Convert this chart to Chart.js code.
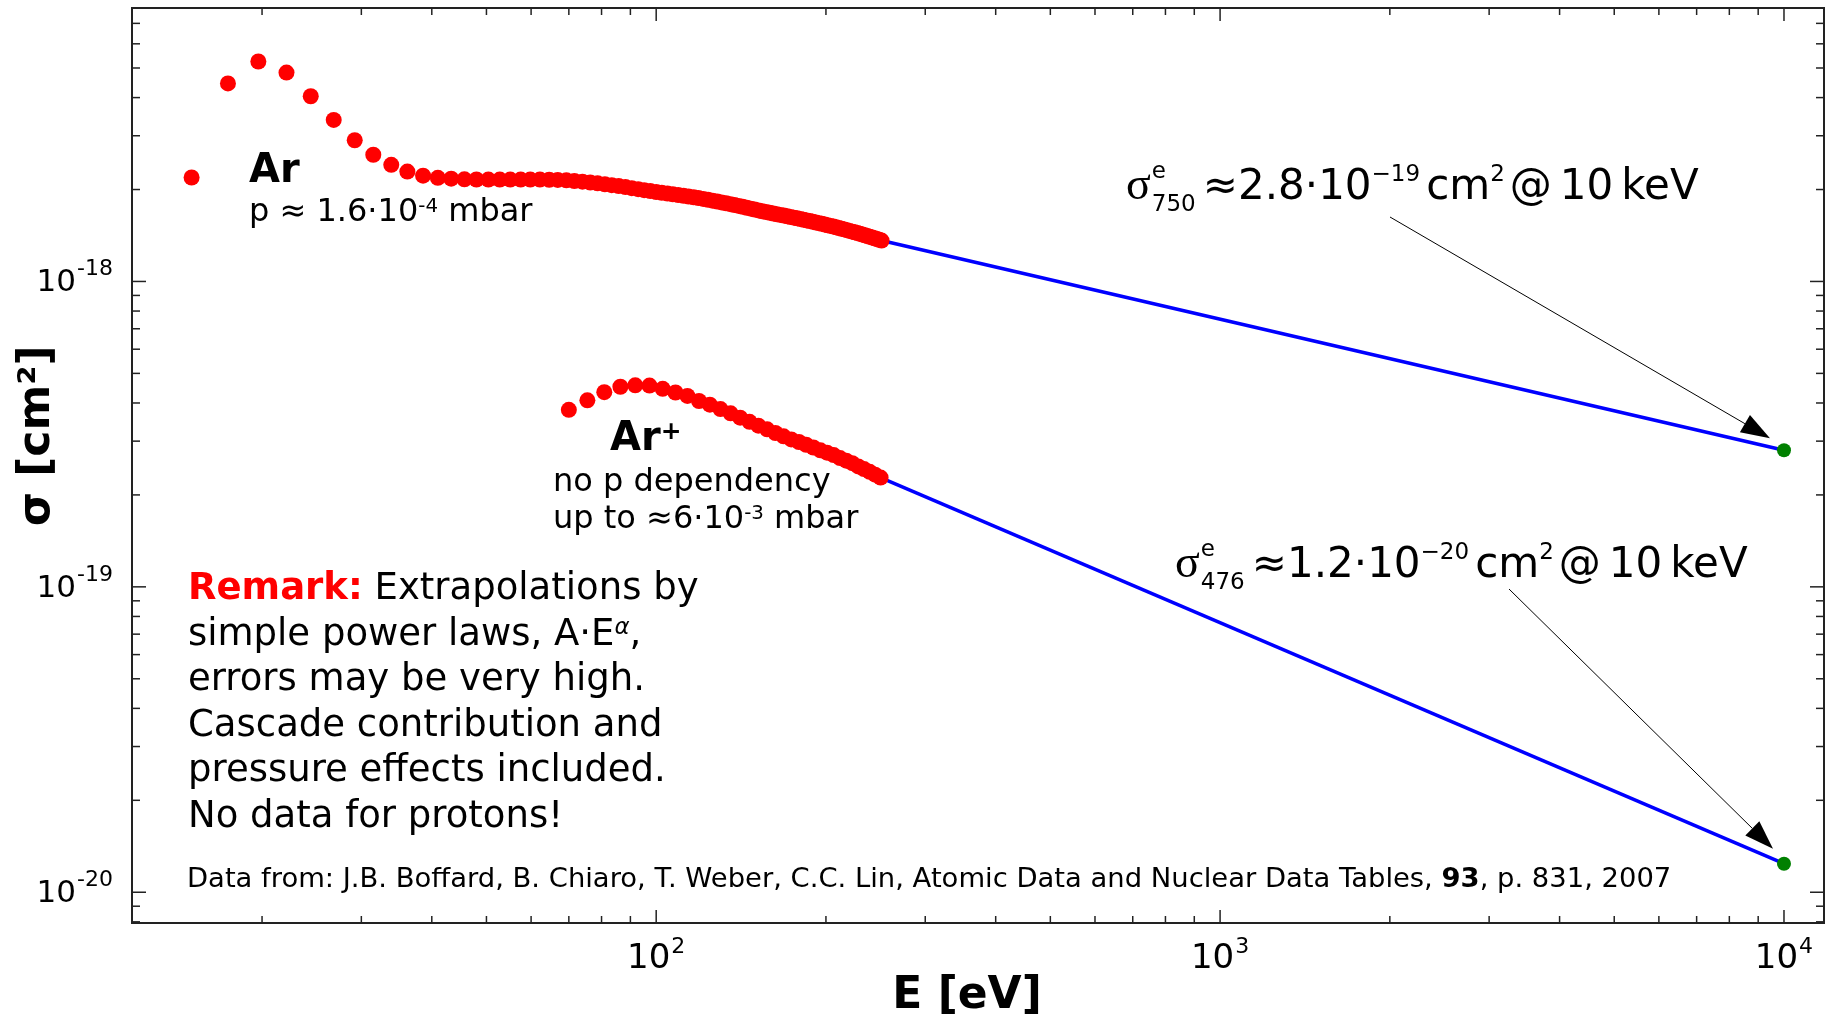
<!DOCTYPE html>
<html>
<head>
<meta charset="utf-8">
<script src="https://cdn.jsdelivr.net/npm/chart.js@4/dist/chart.umd.min.js"></script>
<style>
  body { margin: 0; background: #fff; }
  #wrap { position: relative; width: 1833px; height: 1017px; overflow: hidden; }
  #chart { position: absolute; left: 0; top: 0; }
  .ann { position: absolute; font-family: 'DejaVu Sans'; white-space: nowrap; color: #000; line-height: 1.2; }
  .sp { font-size: 0.62em; position: relative; top: -0.45em; line-height: 1; }
  .big { font-size: 42px; line-height: 50px; }
  .sig { font-family: 'Liberation Serif'; font-size: 46px; }
  .stk { display: inline-block; position: relative; width: 52px; height: 1px; }
  .stk span { position: absolute; left: 1px; font-size: 23px; line-height: 23px; }
  .sx { font-size: 23px; line-height: 23px; position: relative; top: -18px; }
</style>
</head>
<body>
<div id="wrap">
  <canvas id="chart" width="1833" height="1017"></canvas>

  <div class="ann" style="left:249px; top:144px; font-size:40px; font-weight:bold;">Ar</div>
  <div class="ann" style="left:249px; top:191px; font-size:32px;">p ≈ 1.6·10<span class="sp">-4</span> mbar</div>

  <div class="ann" style="left:610px; top:412px; font-size:40px; font-weight:bold;">Ar<span class="sp">+</span></div>
  <div class="ann" style="left:553px; top:462px; font-size:32px; line-height:36.6px;">no p dependency<br>up to ≈6·10<span class="sp">-3</span> mbar</div>

  <div class="ann" style="left:188px; top:564px; font-size:37px; line-height:45.5px;"><b style="color:#ff0000;">Remark:</b> Extrapolations by<br>simple power laws, A·E<span class="sp"><i>α</i></span>,<br>errors may be very high.<br>Cascade contribution and<br>pressure effects included.<br>No data for protons!</div>

  <div class="ann" style="left:187px; top:862px; font-size:27.4px;">Data from: J.B. Boffard, B. Chiaro, T. Weber, C.C. Lin, Atomic Data and Nuclear Data Tables, <b>93</b>, p. 831, 2007</div>

  <div class="ann big" style="left:1126px; top:159px;"><span class="sig">σ</span><span class="stk"><span style="top:-39px">e</span><span style="top:-6px">750</span></span>≈2.8·10<span class="sx">−19</span><span style="margin-left:6px">cm</span><span class="sx">2</span><span style="margin-left:5px">@</span><span style="margin-left:8px">10</span><span style="margin-left:8px">keV</span></div>

  <div class="ann big" style="left:1175px; top:537px;"><span class="sig">σ</span><span class="stk"><span style="top:-39px">e</span><span style="top:-6px">476</span></span>≈1.2·10<span class="sx">−20</span><span style="margin-left:6px">cm</span><span class="sx">2</span><span style="margin-left:5px">@</span><span style="margin-left:8px">10</span><span style="margin-left:8px">keV</span></div>
</div>

<script>
// Ar, 750 nm line: energy [eV] and cross section [cm^2]
const arE = [15.0, 17.4, 19.7, 22.1, 24.4, 26.8, 29.2, 31.5, 33.9, 36.2,
  38.6, 41.0, 43.3, 45.7, 48.0, 50.4, 52.8, 55.1, 57.5, 59.8,
  62.2, 64.6, 66.9, 69.3, 71.6, 74.0, 76.4, 78.7, 81.1, 83.4,
  85.8, 88.2, 90.5, 92.9, 95.2, 97.6, 100.0, 102.3, 104.7, 107.0,
  109.4, 111.8, 114.1, 116.5, 118.8, 121.2, 123.6, 125.9, 128.3, 130.6,
  133.0, 135.4, 137.7, 140.1, 142.4, 144.8, 147.2, 149.5, 151.9, 154.2,
  156.6, 159.0, 161.3, 163.7, 166.0, 168.4, 170.8, 173.1, 175.5, 177.8,
  180.2, 182.6, 184.9, 187.3, 189.6, 192.0, 194.4, 196.7, 199.1, 201.4,
  203.8, 206.2, 208.5, 210.9, 213.2, 215.6, 218.0, 220.3, 222.7, 225.0,
  227.4, 229.8, 232.1, 234.5, 236.8, 239.2, 241.6, 243.9, 246.3, 248.6, 251.0];
const arSigma = [2.19e-18, 4.45e-18, 5.25e-18, 4.83e-18, 4.04e-18, 3.38e-18, 2.90e-18, 2.60e-18, 2.41e-18, 2.29e-18,
  2.22e-18, 2.185e-18, 2.17e-18, 2.16e-18, 2.157e-18, 2.155e-18, 2.155e-18, 2.155e-18, 2.155e-18, 2.155e-18,
  2.155e-18, 2.153e-18, 2.15e-18, 2.143e-18, 2.133e-18, 2.122e-18, 2.108e-18, 2.095e-18, 2.08e-18, 2.066e-18,
  2.052e-18, 2.037e-18, 2.02e-18, 2.005e-18, 1.99e-18, 1.976e-18, 1.963e-18, 1.951e-18, 1.94e-18, 1.929e-18,
  1.918e-18, 1.907e-18, 1.897e-18, 1.887e-18, 1.875e-18, 1.863e-18, 1.851e-18, 1.839e-18, 1.827e-18, 1.815e-18,
  1.803e-18, 1.791e-18, 1.779e-18, 1.767e-18, 1.755e-18, 1.743e-18, 1.731e-18, 1.719e-18, 1.708e-18, 1.697e-18,
  1.687e-18, 1.678e-18, 1.669e-18, 1.66e-18, 1.651e-18, 1.643e-18, 1.634e-18, 1.626e-18, 1.617e-18, 1.609e-18,
  1.6e-18, 1.592e-18, 1.584e-18, 1.576e-18, 1.568e-18, 1.56e-18, 1.552e-18, 1.544e-18, 1.536e-18, 1.528e-18,
  1.52e-18, 1.512e-18, 1.504e-18, 1.496e-18, 1.488e-18, 1.48e-18, 1.472e-18, 1.464e-18, 1.456e-18, 1.448e-18,
  1.44e-18, 1.432e-18, 1.424e-18, 1.416e-18, 1.408e-18, 1.4e-18, 1.392e-18, 1.385e-18, 1.377e-18, 1.369e-18, 1.361e-18];

// Ar+, 476 nm line
const arPlusE = [70.0, 75.5, 80.9, 86.4, 91.8, 97.3, 102.7, 108.2, 113.6, 119.1,
  124.5, 130.0, 135.5, 140.9, 146.4, 151.8, 157.3, 162.7, 168.2, 173.6,
  179.1, 184.5, 190.0, 195.5, 200.9, 206.4, 211.8, 217.3, 222.7, 228.2,
  233.6, 239.1, 244.5, 250.0];
const arPlusSigma = [3.80e-19, 4.08e-19, 4.34e-19, 4.52e-19, 4.57e-19, 4.56e-19, 4.45e-19, 4.33e-19, 4.22e-19, 4.06e-19,
  3.95e-19, 3.82e-19, 3.70e-19, 3.58e-19, 3.47e-19, 3.37e-19, 3.28e-19, 3.19e-19, 3.11e-19, 3.04e-19,
  2.98e-19, 2.92e-19, 2.86e-19, 2.80e-19, 2.75e-19, 2.70e-19, 2.64e-19, 2.59e-19, 2.54e-19, 2.48e-19,
  2.43e-19, 2.38e-19, 2.33e-19, 2.28e-19];

// power-law extrapolations to 10 keV
const arFitE = [251.0, 10000];
const arFitSigma = [1.361e-18, 2.8e-19];
const arPlusFitE = [250.0, 10000];
const arPlusFitSigma = [2.28e-19, 1.24e-20];
const at10keVE = [10000, 10000];
const at10keVSigma = [2.8e-19, 1.24e-20];

// axes
const xRange = [11.76, 11775];
const yRange = [7.93e-21, 7.86e-18];
const xMajor = [100, 1000, 10000];
const xMajorExp = ['2', '3', '4'];
const xMinor = [20, 30, 40, 50, 60, 70, 80, 90, 200, 300, 400, 500, 600, 700, 800, 900,
  2000, 3000, 4000, 5000, 6000, 7000, 8000, 9000];
const yMajor = [1e-20, 1e-19, 1e-18];
const yMajorExp = ['-20', '-19', '-18'];
const yMinor = [8e-21, 9e-21, 2e-20, 3e-20, 4e-20, 5e-20, 6e-20, 7e-20, 8e-20, 9e-20,
  2e-19, 3e-19, 4e-19, 5e-19, 6e-19, 7e-19, 8e-19, 9e-19, 2e-18, 3e-18, 4e-18, 5e-18, 6e-18, 7e-18];

const pts = (xs, ys) => xs.map((v, i) => ({ x: v, y: ys[i] }));
const FONT = 'DejaVu Sans';

// inward ticks on all four sides, 10^n tick labels, frame and the two arrows
const frameTicks = {
  id: 'frameTicks',
  afterDraw(chart) {
    const { ctx, chartArea: a, scales: { x, y } } = chart;
    ctx.save();
    ctx.strokeStyle = '#222';
    ctx.lineWidth = 1.5;
    const seg = (x1, y1, x2, y2) => { ctx.beginPath(); ctx.moveTo(x1, y1); ctx.lineTo(x2, y2); ctx.stroke(); };
    xMajor.concat(xMinor).forEach(v => {
      const px = x.getPixelForValue(v);
      const len = xMajor.includes(v) ? 13 : 7;
      seg(px, a.bottom, px, a.bottom - len);
      seg(px, a.top, px, a.top + len);
    });
    yMajor.concat(yMinor).forEach(v => {
      const py = y.getPixelForValue(v);
      const len = yMajor.includes(v) ? 14 : 8;
      seg(a.left, py, a.left + len, py);
      seg(a.right, py, a.right - len, py);
    });
    ctx.lineWidth = 2;
    ctx.strokeRect(a.left, a.top, a.right - a.left, a.bottom - a.top);

    // decade labels: "10" with a raised exponent
    ctx.fillStyle = '#000';
    ctx.textBaseline = 'alphabetic';
    ctx.textAlign = 'left';
    xMajor.forEach((v, i) => {
      const px = x.getPixelForValue(v);
      ctx.font = `34px ${FONT}`;
      const w1 = ctx.measureText('10').width;
      ctx.font = `22px ${FONT}`;
      const w2 = ctx.measureText(xMajorExp[i]).width;
      const x0 = px - (w1 + w2 + 1) / 2;
      ctx.font = `34px ${FONT}`;
      ctx.fillText('10', x0, a.bottom + 45);
      ctx.font = `22px ${FONT}`;
      ctx.fillText(xMajorExp[i], x0 + w1 + 1, a.bottom + 30);
    });
    yMajor.forEach((v, i) => {
      const py = y.getPixelForValue(v);
      ctx.font = `22px ${FONT}`;
      const w2 = ctx.measureText(yMajorExp[i]).width;
      const xe = a.left - 19;
      ctx.fillText(yMajorExp[i], xe - w2, py - 6);
      ctx.font = `31px ${FONT}`;
      const w1 = ctx.measureText('10').width;
      ctx.fillText('10', xe - w2 - 1 - w1, py + 10);
    });

    const arrow = (x0, y0, x1, y1) => {
      const ang = Math.atan2(y1 - y0, x1 - x0);
      const len = 29, hw = 10;
      const bx = x1 - len * Math.cos(ang), by = y1 - len * Math.sin(ang);
      ctx.strokeStyle = '#000';
      ctx.lineWidth = 1;
      seg(x0, y0, bx, by);
      ctx.fillStyle = '#000';
      ctx.beginPath();
      ctx.moveTo(x1, y1);
      ctx.lineTo(bx + hw * Math.sin(ang), by - hw * Math.cos(ang));
      ctx.lineTo(bx - hw * Math.sin(ang), by + hw * Math.cos(ang));
      ctx.closePath();
      ctx.fill();
    };
    const gx = x.getPixelForValue(at10keVE[0]);
    arrow(1390, 217, gx - 14, y.getPixelForValue(at10keVSigma[0]) - 12);
    arrow(1509, 589, gx - 11, y.getPixelForValue(at10keVSigma[1]) - 15);
    ctx.restore();
  }
};

const noPad = s => { s.paddingTop = 0; s.paddingBottom = 0; s.paddingLeft = 0; s.paddingRight = 0; };

new Chart(document.getElementById('chart').getContext('2d'), {
  type: 'scatter',
  data: {
    datasets: [
      { data: pts(arE, arSigma), backgroundColor: '#ff0000', borderWidth: 0, pointRadius: 8 },
      { data: pts(arPlusE, arPlusSigma), backgroundColor: '#ff0000', borderWidth: 0, pointRadius: 8 },
      { data: pts(at10keVE, at10keVSigma), backgroundColor: '#008000', borderWidth: 0, pointRadius: 7 },
      { data: pts(arFitE, arFitSigma), showLine: true, borderColor: '#0000ff', borderWidth: 3.5, pointRadius: 0 },
      { data: pts(arPlusFitE, arPlusFitSigma), showLine: true, borderColor: '#0000ff', borderWidth: 3.5, pointRadius: 0 }
    ]
  },
  options: {
    responsive: false,
    animation: false,
    layout: { padding: { top: 7, right: 9, left: 0, bottom: 0 } },
    plugins: { legend: { display: false }, tooltip: { enabled: false } },
    scales: {
      x: {
        type: 'logarithmic',
        min: xRange[0], max: xRange[1],
        grid: { display: false },
        border: { display: false },
        afterBuildTicks: s => { s.ticks = xMajor.concat(xMinor).sort((a, b) => a - b).map(v => ({ value: v })); },
        afterFit: s => { s.height = 94; noPad(s); },
        ticks: { display: false },
        title: { display: true, text: 'E [eV]\u2002', color: '#000', font: { family: FONT, size: 44, weight: 'bold' }, padding: { top: 0, bottom: -6 } }
      },
      y: {
        type: 'logarithmic',
        min: yRange[0], max: yRange[1],
        grid: { display: false },
        border: { display: false },
        afterBuildTicks: s => { s.ticks = yMajor.concat(yMinor).sort((a, b) => a - b).map(v => ({ value: v })); },
        afterFit: s => { s.width = 132; noPad(s); },
        ticks: { display: false },
        title: { display: true, text: '\u2003 σ [cm²]', color: '#000', font: { family: FONT, size: 44, weight: 'bold' }, padding: { top: 11, bottom: 0 } }
      }
    }
  },
  plugins: [frameTicks]
});
</script>
</body>
</html>
